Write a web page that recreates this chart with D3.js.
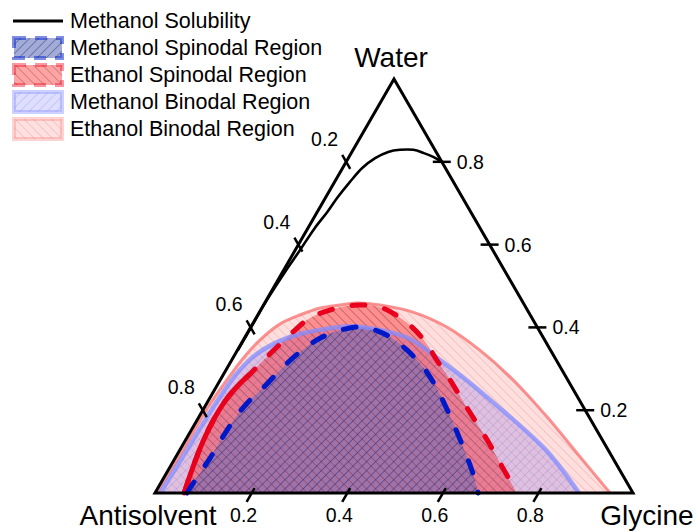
<!DOCTYPE html>
<html>
<head>
<meta charset="utf-8">
<script src="https://cdn.jsdelivr.net/npm/d3@7"></script>
<style>
  html, body { margin: 0; padding: 0; background: #fff; }
  svg { display: block; font-family: "Liberation Sans", Arial, sans-serif; }
</style>
</head>
<body>
<svg id="chart" width="696" height="532"></svg>
<script>
// Compositions are [glycine, water] mass fractions; antisolvent = 1 - glycine - water.
const methanolSolubility = [
  [0.001, 0.345], [0.001, 0.406], [0.001, 0.466], [0.005, 0.534], [0.010, 0.587],
  [0.014, 0.638], [0.021, 0.679], [0.025, 0.715], [0.032, 0.751], [0.041, 0.785],
  [0.056, 0.809], [0.076, 0.824], [0.098, 0.829], [0.126, 0.829], [0.152, 0.821],
  [0.176, 0.812], [0.200, 0.800]
];
const methanolSpinodal = [
  [0.067, 0], [0.069, 0.039], [0.073, 0.085], [0.074, 0.133], [0.077, 0.181],
  [0.085, 0.220], [0.101, 0.259], [0.115, 0.302], [0.133, 0.341], [0.158, 0.374],
  [0.199, 0.396], [0.233, 0.401], [0.271, 0.391], [0.309, 0.374], [0.355, 0.345],
  [0.409, 0.304], [0.455, 0.261], [0.500, 0.213], [0.554, 0.152], [0.605, 0.092],
  [0.644, 0.044], [0.676, 0]
];
const ethanolSpinodal = [
  [0.061, 0], [0.048, 0.063], [0.038, 0.126], [0.034, 0.181], [0.036, 0.225],
  [0.044, 0.259], [0.055, 0.287], [0.067, 0.321], [0.080, 0.355], [0.094, 0.389],
  [0.113, 0.423], [0.150, 0.444], [0.198, 0.454], [0.252, 0.447], [0.322, 0.411],
  [0.383, 0.365], [0.429, 0.321], [0.481, 0.273], [0.530, 0.225], [0.581, 0.176],
  [0.631, 0.128], [0.695, 0.063], [0.757, 0]
];
const methanolBinodal = [
  [0.011, 0], [0.015, 0.104], [0.018, 0.208], [0.027, 0.290], [0.043, 0.333],
  [0.070, 0.362], [0.111, 0.384], [0.158, 0.396], [0.206, 0.403], [0.274, 0.394],
  [0.348, 0.372], [0.436, 0.321], [0.526, 0.266], [0.619, 0.205], [0.698, 0.152],
  [0.763, 0.106], [0.824, 0.056], [0.887, 0]
];
const ethanolBinodal = [
  [0.004, 0], [0.007, 0.099], [0.007, 0.208], [0.016, 0.290], [0.023, 0.331],
  [0.035, 0.370], [0.057, 0.408], [0.088, 0.430], [0.122, 0.447], [0.160, 0.454],
  [0.195, 0.459], [0.244, 0.454], [0.321, 0.437], [0.410, 0.401], [0.507, 0.345],
  [0.613, 0.273], [0.728, 0.184], [0.846, 0.087], [0.952, 0]
];
const tickValues = [0.2, 0.4, 0.6, 0.8];
const tickLabels = ["0.2", "0.4", "0.6", "0.8"];
const vertexLabels = ["Water", "Antisolvent", "Glycine"];
const legendLabels = [
  "Methanol Solubility", "Methanol Spinodal Region", "Ethanol Spinodal Region",
  "Methanol Binodal Region", "Ethanol Binodal Region"
];

const svg = d3.select("#chart");
const side = 478;
const xScale = d3.scaleLinear().domain([0, 1]).range([155, 155 + side]);
const yScale = d3.scaleLinear().domain([0, 1]).range([493, 493 - side * Math.sqrt(3) / 2]);
const proj = ([g, w]) => [xScale(g + w / 2), yScale(w)];

const line = d3.line().x(d => proj(d)[0]).y(d => proj(d)[1]).curve(d3.curveCatmullRom.alpha(0.5));

// hatch patterns
const defs = svg.append("defs");
function hatch(id, angle, color, width) {
  const s = 6.4;
  const p = defs.append("pattern").attr("id", id)
    .attr("patternUnits", "userSpaceOnUse").attr("width", s).attr("height", s)
    .attr("patternTransform", `rotate(${angle})`);
  p.append("line").attr("x1", s / 2).attr("y1", 0).attr("x2", s / 2).attr("y2", s)
    .attr("stroke", color).attr("stroke-width", width);
}
hatch("hEB", -45, "rgba(190,90,90,0.22)", 0.8);
hatch("hMB", 45, "rgba(90,90,190,0.22)", 0.8);
hatch("hES", -45, "rgba(70,20,40,0.32)", 0.8);
hatch("hMS", 45, "rgba(20,20,70,0.42)", 0.8);

const regions = [
  { data: ethanolBinodal, fill: "rgba(255,0,0,0.13)", hatch: "hEB" },
  { data: methanolBinodal, fill: "rgba(0,0,255,0.13)", hatch: "hMB" },
  { data: ethanolSpinodal, fill: "rgba(255,0,0,0.36)", hatch: "hES" },
  { data: methanolSpinodal, fill: "rgba(40,100,210,0.38)", hatch: "hMS" }
];
const gRegions = svg.append("g");
regions.forEach(r => {
  gRegions.append("path").attr("d", line(r.data) + "Z").attr("fill", r.fill);
});
regions.forEach(r => {
  gRegions.append("path").attr("d", line(r.data) + "Z").attr("fill", `url(#${r.hatch})`);
});

// boundary lines
const gLines = svg.append("g").attr("fill", "none");
gLines.append("path").attr("d", line(ethanolBinodal))
  .attr("stroke", "rgba(250,110,110,0.75)").attr("stroke-width", 3);
gLines.append("path").attr("d", line(methanolBinodal))
  .attr("stroke", "rgba(130,140,255,0.75)").attr("stroke-width", 4.5);
// lower-left branch of the ethanol spinodal is drawn solid
const solidEnd = ethanolSpinodal.findIndex(d => d[1] > 0.29);
gLines.append("path").attr("d", line(ethanolSpinodal.slice(0, solidEnd)))
  .attr("stroke", "#e8001c").attr("stroke-width", 5);
gLines.append("path").attr("d", line(ethanolSpinodal))
  .attr("stroke", "#e8001c").attr("stroke-width", 5)
  .attr("stroke-dasharray", "13,20").attr("stroke-linecap", "round");
gLines.append("path").attr("d", line(methanolSpinodal))
  .attr("stroke", "#0019c8").attr("stroke-width", 5)
  .attr("stroke-dasharray", "13,20").attr("stroke-linecap", "round");

// triangle frame
const corners = [[0, 1], [0, 0], [1, 0]].map(proj);
svg.append("path").attr("d", "M" + corners.join("L") + "Z")
  .attr("fill", "none").attr("stroke", "#000").attr("stroke-width", 3)
  .attr("stroke-linejoin", "miter");

// methanol solubility curve
svg.append("path").attr("d", line(methanolSolubility))
  .attr("fill", "none").attr("stroke", "#000").attr("stroke-width", 2.6);

// ticks and labels
const gTicks = svg.append("g").attr("stroke", "#000").attr("stroke-width", 2.5);
const gTickText = svg.append("g").attr("font-size", 19.5).attr("fill", "#000");
const c30 = Math.cos(Math.PI / 3), s60 = Math.sin(Math.PI / 3);
tickValues.forEach((v, i) => {
  // glycine, along the bottom
  let [x, y] = proj([v, 0]);
  gTicks.append("line").attr("x1", x - 8 * c30).attr("y1", y + 2 + 8 * s60)
    .attr("x2", x + 8 * c30).attr("y2", y + 2 - 8 * s60);
  gTickText.append("text").attr("x", x - 7).attr("y", 522)
    .attr("text-anchor", "middle").text(tickLabels[i]);
  // antisolvent, along the left side
  [x, y] = proj([0, 1 - v]);
  gTicks.append("line").attr("x1", x - 8 * c30).attr("y1", y - 8 * s60)
    .attr("x2", x + 8 * c30).attr("y2", y + 8 * s60);
  gTickText.append("text").attr("x", x - 8).attr("y", y - 16)
    .attr("text-anchor", "end").text(tickLabels[i]);
  // water, along the right side
  [x, y] = proj([1 - v, v]);
  gTicks.append("line").attr("x1", x - 9).attr("y1", y).attr("x2", x + 9).attr("y2", y);
  gTickText.append("text").attr("x", x + 15).attr("y", y + 7)
    .attr("text-anchor", "start").text(tickLabels[i]);
});

// vertex labels
const gVert = svg.append("g").attr("font-size", 28).attr("fill", "#000").attr("text-anchor", "middle");
gVert.append("text").attr("x", proj([0, 1])[0] - 3).attr("y", 67).text(vertexLabels[0]);
gVert.append("text").attr("x", 148).attr("y", 525).text(vertexLabels[1]);
gVert.append("text").attr("x", 647).attr("y", 525).text(vertexLabels[2]);

// legend
const gLeg = svg.append("g").attr("font-size", 21.5).attr("fill", "#000");
const swatches = [
  null,
  { fill: "rgba(50,70,170,0.45)", hatch: "hMS", stroke: "rgba(0,30,200,0.5)", dash: "12,9" },
  { fill: "rgba(255,0,0,0.36)", hatch: "hES", stroke: "rgba(232,0,28,0.4)", dash: "12,9" },
  { fill: "rgba(0,0,255,0.13)", hatch: "hMB", stroke: "rgba(130,140,255,0.4)", dash: null },
  { fill: "rgba(255,0,0,0.12)", hatch: "hEB", stroke: "rgba(250,110,110,0.3)", dash: null }
];
legendLabels.forEach((lab, i) => {
  const base = 28 + i * 27;
  if (i === 0) {
    gLeg.append("line").attr("x1", 13).attr("x2", 63).attr("y1", base - 7).attr("y2", base - 7)
      .attr("stroke", "#000").attr("stroke-width", 3);
  } else {
    const sw = swatches[i];
    gLeg.append("rect").attr("x", 14).attr("y", base - 17).attr("width", 48).attr("height", 20)
      .attr("fill", sw.fill);
    gLeg.append("rect").attr("x", 14).attr("y", base - 17).attr("width", 48).attr("height", 20)
      .attr("fill", `url(#${sw.hatch})`).attr("stroke", sw.stroke).attr("stroke-width", 4)
      .attr("stroke-dasharray", sw.dash);
  }
  gLeg.append("text").attr("x", 70).attr("y", base).text(lab);
});
</script>
</body>
</html>
